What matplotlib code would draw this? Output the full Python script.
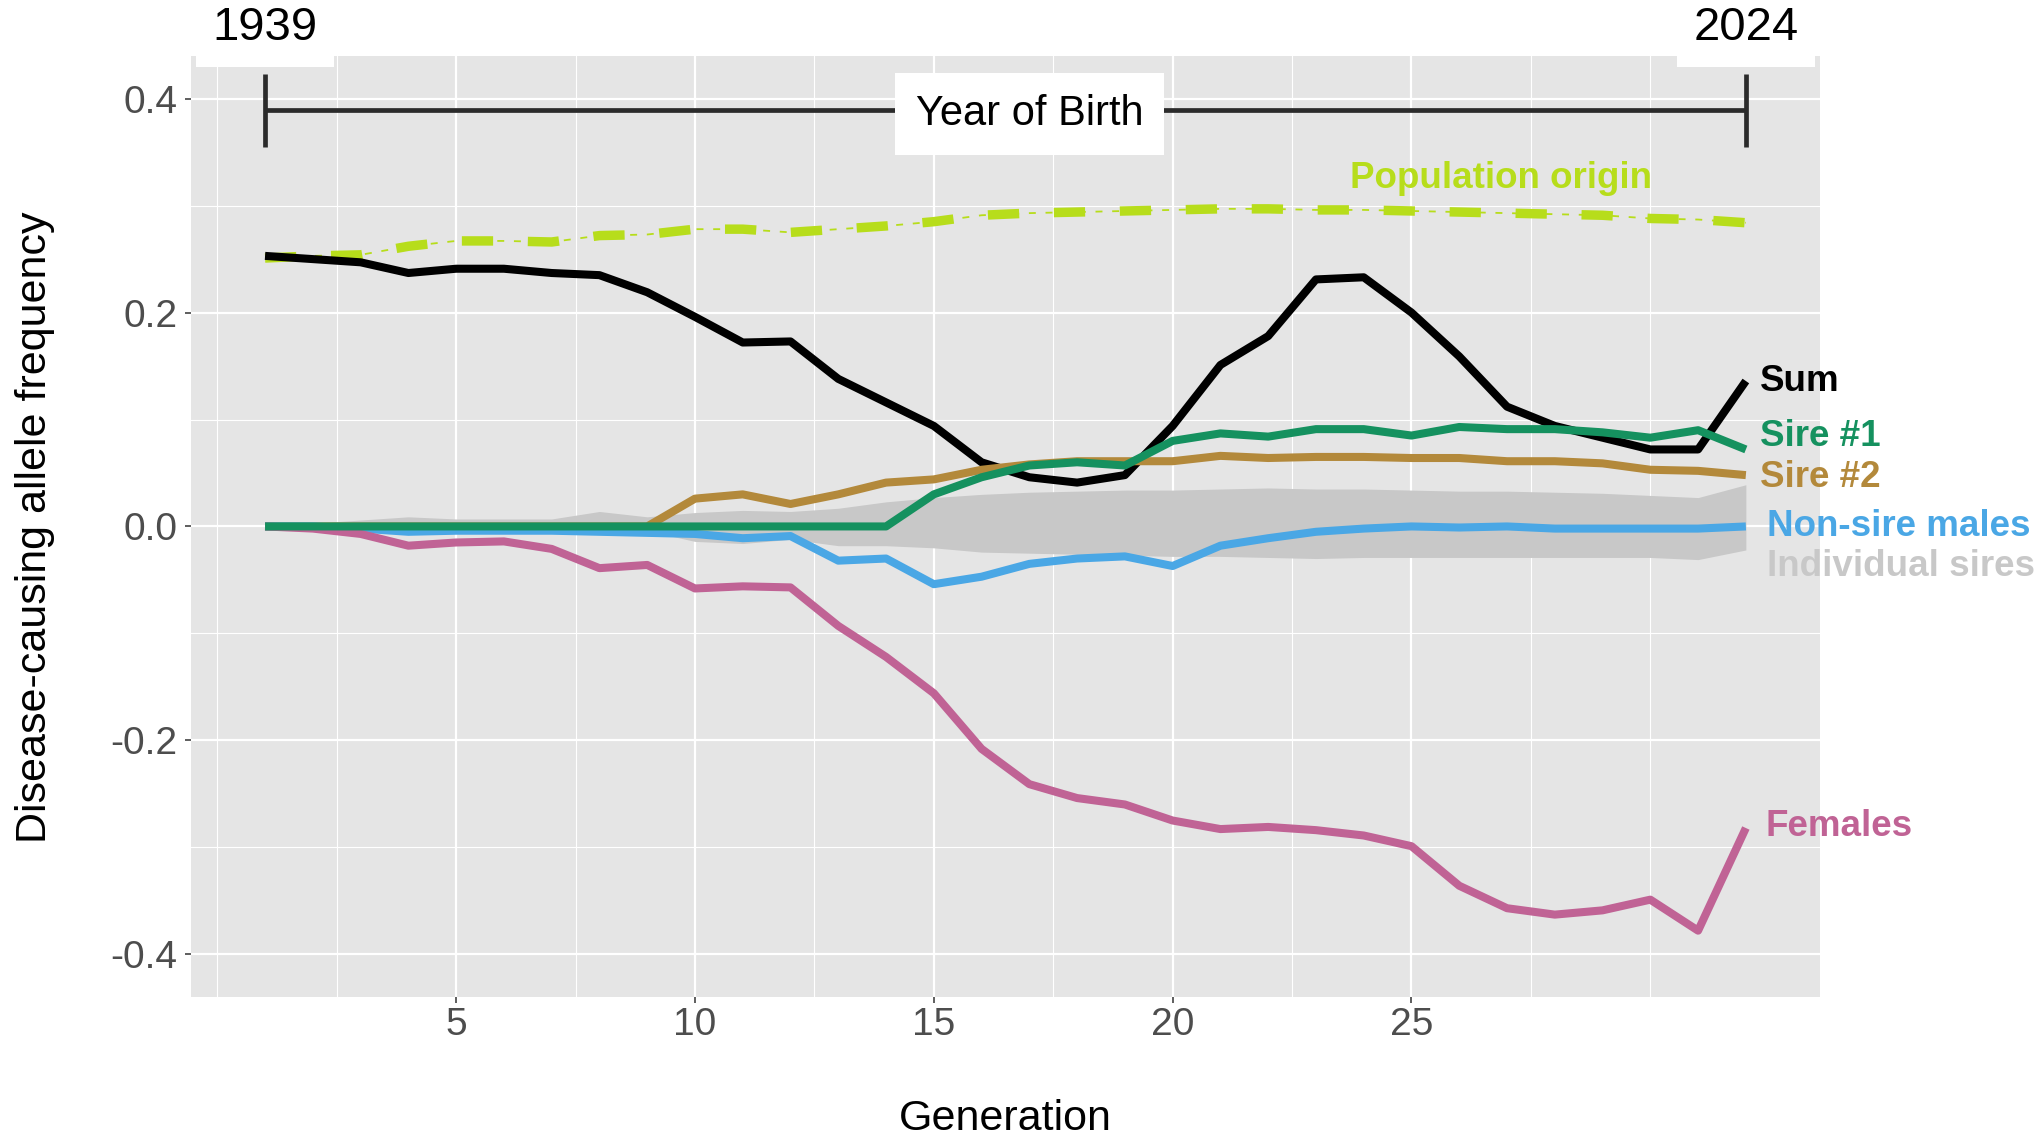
import matplotlib
matplotlib.use("Agg")
import matplotlib.pyplot as plt

plt.rcParams["font.family"] = ["Liberation Sans", "DejaVu Sans"]
plt.rcParams["lines.scale_dashes"] = False

# ─── data: allele frequency contributions per generation ───────────
generation = list(range(1, 33))

sum_freq = [0.253, 0.250, 0.247, 0.237, 0.241, 0.241, 0.237, 0.235, 0.219, 0.196,
            0.172, 0.173, 0.138, 0.116, 0.094, 0.060, 0.046, 0.041, 0.048, 0.094,
            0.151, 0.178, 0.231, 0.233, 0.200, 0.159, 0.112, 0.094, 0.083, 0.072,
            0.072, 0.136]

sire1 = [0.0] * 14 + [0.030, 0.046, 0.057, 0.060, 0.057, 0.080, 0.087, 0.084, 0.091,
                      0.091, 0.085, 0.093, 0.091, 0.091, 0.088, 0.083, 0.090, 0.072]

sire2 = [0.0] * 9 + [0.026, 0.030, 0.021, 0.030, 0.041, 0.044, 0.053, 0.058, 0.061,
                     0.061, 0.061, 0.066, 0.064, 0.065, 0.065, 0.064, 0.064, 0.061,
                     0.061, 0.059, 0.053, 0.052, 0.048]

non_sire_males = [0.000, 0.000, -0.002, -0.005, -0.004, -0.004, -0.004, -0.005, -0.006,
                  -0.007, -0.011, -0.009, -0.032, -0.030, -0.054, -0.047, -0.035, -0.030,
                  -0.028, -0.037, -0.018, -0.011, -0.005, -0.002, 0.000, -0.001, 0.000,
                  -0.002, -0.002, -0.002, -0.002, 0.000]

females = [0.000, -0.002, -0.007, -0.018, -0.015, -0.014, -0.021, -0.039, -0.036, -0.058,
           -0.056, -0.057, -0.093, -0.122, -0.156, -0.208, -0.241, -0.254, -0.260, -0.275,
           -0.283, -0.281, -0.284, -0.289, -0.299, -0.336, -0.357, -0.363, -0.359, -0.349,
           -0.378, -0.282]

pop_origin = [0.251, 0.253, 0.254, 0.262, 0.267, 0.267, 0.266, 0.272, 0.273, 0.278,
              0.278, 0.275, 0.278, 0.281, 0.285, 0.291, 0.293, 0.294, 0.295, 0.296,
              0.297, 0.297, 0.296, 0.296, 0.295, 0.294, 0.293, 0.292, 0.291, 0.288,
              0.287, 0.284]

# envelope of the individual sire lines
sires_hi = [0.003, 0.003, 0.006, 0.009, 0.007, 0.007, 0.007, 0.014, 0.009, 0.013,
            0.015, 0.014, 0.017, 0.023, 0.027, 0.030, 0.032, 0.033, 0.034, 0.034,
            0.035, 0.036, 0.035, 0.035, 0.034, 0.033, 0.033, 0.032, 0.031, 0.029,
            0.027, 0.039]
sires_lo = [-0.003, -0.003, -0.004, -0.006, -0.005, -0.005, -0.005, -0.004, -0.004, -0.014,
            -0.016, -0.012, -0.018, -0.018, -0.020, -0.024, -0.025, -0.026, -0.027, -0.028,
            -0.028, -0.029, -0.030, -0.029, -0.029, -0.029, -0.029, -0.029, -0.029, -0.029,
            -0.031, -0.022]

year_first, year_last = "1939", "2024"

# ─── colours ───────────────────────────────────────────────────────
COL_SUM = "#000000"
COL_SIRE1 = "#15915F"
COL_SIRE2 = "#B3893B"
COL_NONSIRE = "#4AA7E5"
COL_FEMALES = "#C06395"
COL_POP = "#B7DD1B"
COL_SIRES = "#C8C8C8"
LW = 5.8

fig = plt.figure(figsize=(20.43, 11.39), dpi=100)
ax = fig.add_axes([0.0935, 0.1247, 0.7973, 0.8262])
ax.set_facecolor("#E5E5E5")
for s in ax.spines.values():
    s.set_visible(False)

ax.set_xlim(-0.55, 33.55)
ax.set_ylim(-0.44, 0.44)
ax.set_xticks([5, 10, 15, 20, 25])
ax.set_xticks([0, 2.5, 7.5, 12.5, 17.5, 22.5, 27.5, 30], minor=True)
ax.set_yticks([-0.4, -0.2, 0.0, 0.2, 0.4])
ax.set_yticklabels(["-0.4", "-0.2", "0.0", "0.2", "0.4"])
ax.set_yticks([-0.3, -0.1, 0.1, 0.3], minor=True)
ax.grid(which="major", color="white", lw=1.6)
ax.grid(which="minor", color="white", lw=0.8)
ax.set_axisbelow(True)
ax.tick_params(which="major", length=4.5, width=1.1, color="#333333",
               labelsize=28, labelcolor="#4D4D4D")
ax.tick_params(axis="x", pad=3)
ax.tick_params(axis="y", pad=5.5)
ax.tick_params(which="minor", length=0)

# individual sires band
ax.fill_between(generation, sires_lo, sires_hi, color=COL_SIRES, lw=0, zorder=2)

# population origin: thin dashed + thick dashed overlay
ax.plot(generation, pop_origin, color=COL_POP, lw=1.3, dashes=(5, 7), zorder=3)
ax.plot(generation, pop_origin, color=COL_POP, lw=6.8, dashes=(22.5, 25),
        dash_capstyle="butt", zorder=3)

line_kw = dict(lw=LW, solid_capstyle="butt", solid_joinstyle="round", zorder=4)
ax.plot(generation, sum_freq, color=COL_SUM, **line_kw)
ax.plot(generation, sire2, color=COL_SIRE2, **line_kw)
ax.plot(generation, non_sire_males, color=COL_NONSIRE, **line_kw)
ax.plot(generation, females, color=COL_FEMALES, **line_kw)
ax.plot(generation, sire1, color=COL_SIRE1, **line_kw)

# Year of birth bracket
YOB_Y = 0.389
YOB_CAP = 0.034
ax.hlines(YOB_Y, generation[0], generation[-1], color="#2B2B2B", lw=3.4, zorder=5)
ax.vlines([generation[0], generation[-1]], YOB_Y - YOB_CAP, YOB_Y + YOB_CAP,
          color="#2B2B2B", lw=3.4, zorder=5)
ax.text(17, YOB_Y - 0.003, "Year of Birth", fontsize=30, ha="center", va="center",
        zorder=6,
        bbox=dict(boxstyle="square,pad=0.5", facecolor="white", edgecolor="none"))
for g, yr in [(generation[0], year_first), (generation[-1], year_last)]:
    ax.text(g, 0.466, yr, fontsize=34, ha="center", va="center", zorder=6,
            clip_on=False,
            bbox=dict(boxstyle="square,pad=0.35", facecolor="white", edgecolor="none"))

# direct line labels
end_x = generation[-1]
labels = [
    ("Sum", 0.1355, COL_SUM, 0.3),
    ("Sire #1", 0.084, COL_SIRE1, 0.3),
    ("Sire #2", 0.046, COL_SIRE2, 0.3),
    ("Non-sire males", 0.0, COL_NONSIRE, 0.45),
    ("Individual sires", -0.037, COL_SIRES, 0.45),
    ("Females", -0.281, COL_FEMALES, 0.42),
]
for txt, yv, col, dx in labels:
    ax.text(end_x + dx, yv, txt, color=col, fontsize=26.5, fontweight="bold",
            ha="left", va="center", clip_on=False, zorder=6)
ax.text(26.88, 0.325, "Population origin", color=COL_POP, fontsize=26.5,
        fontweight="bold", ha="center", va="center", zorder=6)

fig.text(1005.5 / 2043, 1 - 1130 / 1139, "Generation", fontsize=31,
         ha="center", va="baseline")
fig.text(35 / 2043, 1 - 527 / 1139, "Disease-causing allele frequency", fontsize=31,
         rotation=90, ha="center", va="center")

fig.savefig("out.png", dpi=100)
